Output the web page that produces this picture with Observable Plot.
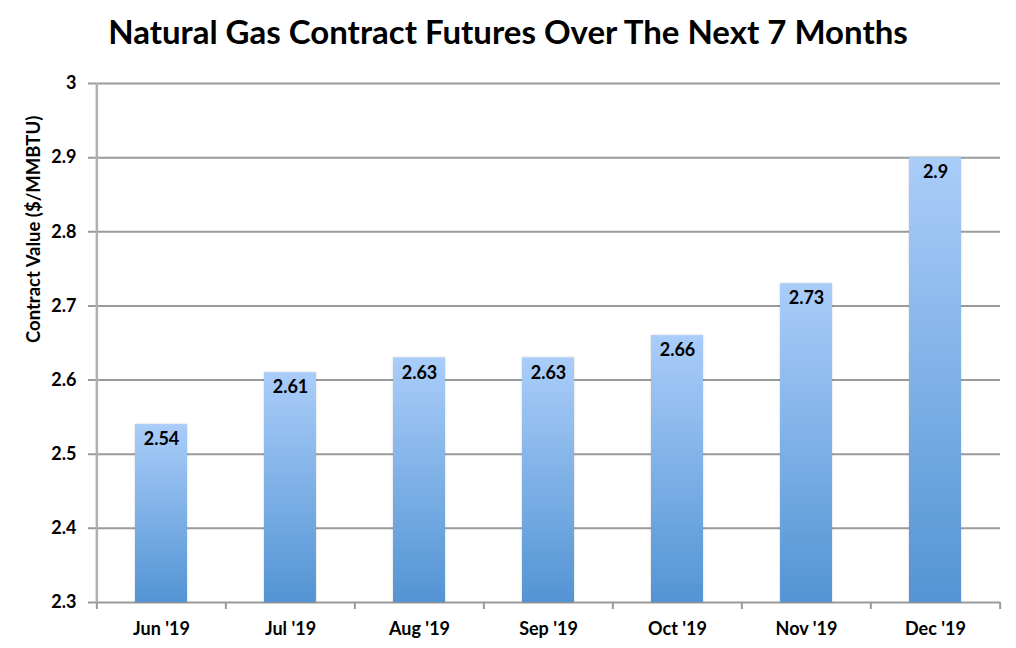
<!DOCTYPE html>
<html>
<head>
<meta charset="utf-8">
<script src="https://cdn.jsdelivr.net/npm/d3@7"></script>
<script src="https://cdn.jsdelivr.net/npm/@observablehq/plot@0.6"></script>
<style>
  html, body { margin: 0; padding: 0; background: #fff; }
  body { width: 1016px; height: 648px; overflow: hidden; font-family: Lato, "Open Sans", sans-serif; }
  #title { height: 65px; box-sizing: border-box; padding-top: 12px; text-align: center; font-size: 33px; font-weight: 700; color: #000; line-height: 1.2; }
  #chart svg { display: block; }
</style>
</head>
<body>
<div id="title">Natural Gas Contract Futures Over The Next 7 Months</div>
<div id="chart"></div>
<script>
const months = ["Jun '19", "Jul '19", "Aug '19", "Sep '19", "Oct '19", "Nov '19", "Dec '19"];
const values = [2.54, 2.61, 2.63, 2.63, 2.66, 2.73, 2.9];
const yTicks = [2.3, 2.4, 2.5, 2.6, 2.7, 2.8, 2.9, 3];
const yLabel = "Contract Value ($/MMBTU)";

const data = months.map((m, i) => ({month: m, value: values[i]}));

const W = 1016, H = 578, mL = 95, mR = 16, mT = 18, mB = 41;
const bw = (W - mL - mR) / months.length;

const gradientDefs = () => {
  const defs = d3.create("svg:defs");
  const g = defs.append("linearGradient").attr("id", "barGrad")
    .attr("x1", 0).attr("y1", 0).attr("x2", 0).attr("y2", 1);
  g.append("stop").attr("offset", "0%").attr("stop-color", "#aacdf9");
  g.append("stop").attr("offset", "100%").attr("stop-color", "#5394d4");
  const f = defs.append("filter").attr("id", "shadow").attr("x", "-20%").attr("y", "-5%").attr("width", "140%").attr("height", "110%");
  f.append("feDropShadow").attr("dx", 0).attr("dy", 0).attr("stdDeviation", 1.2).attr("flood-color", "#000").attr("flood-opacity", 0.18);
  return defs.node();
};

const chart = Plot.plot({
  width: W, height: H,
  marginLeft: mL, marginRight: mR, marginTop: mT, marginBottom: mB,
  style: {fontFamily: "Lato, 'Open Sans', sans-serif", fontSize: "18px", fontWeight: 700, color: "#000", background: "#fff"},
  x: {domain: months, paddingInner: 0.6, paddingOuter: 0.3, label: null},
  y: {domain: [2.3, 3], label: null},
  marks: [
    gradientDefs,
    Plot.ruleY(yTicks, {stroke: "#9a9a9a", strokeWidth: 2, strokeOpacity: 1, insetLeft: -7}),
    Plot.ruleX([months[0]], {dx: -bw / 2, stroke: "#b0b0b0", strokeWidth: 2.5, strokeOpacity: 1}),
    Plot.ruleX(months, {y1: 2.3, y2: 2.3, dx: -bw / 2, insetBottom: -7, stroke: "#9a9a9a", strokeWidth: 2, strokeOpacity: 1}),
    Plot.ruleX([months[months.length - 1]], {y1: 2.3, y2: 2.3, dx: bw / 2, insetBottom: -7, stroke: "#9a9a9a", strokeWidth: 2, strokeOpacity: 1}),
    Plot.barY(data, {x: "month", y1: 2.3, y2: "value", fill: "url(#barGrad)"}),
    Plot.text(data, {x: "month", y: "value", text: d => String(d.value), dy: 15, fontSize: 18, fontWeight: 700, fill: "#000"}),
    Plot.axisY(yTicks, {tickSize: 0, tickPadding: 19, tickFormat: "~g", fontSize: 18, fontWeight: 700, label: null}),
    Plot.axisX({tickSize: 0, tickPadding: 20, fontSize: 18, fontWeight: 700, label: null}),
    Plot.text([yLabel], {text: d => d, frameAnchor: "left", rotate: -90, dx: -61, fontSize: 18.5, fontWeight: 700, fill: "#000"})
  ]
});
chart.querySelectorAll("rect").forEach(r => { if (r.getAttribute("fill") === "url(#barGrad)" || (r.parentNode && r.parentNode.getAttribute("fill") === "url(#barGrad)")) r.setAttribute("filter", "url(#shadow)"); });
document.getElementById("chart").appendChild(chart);
</script>
</body>
</html>
